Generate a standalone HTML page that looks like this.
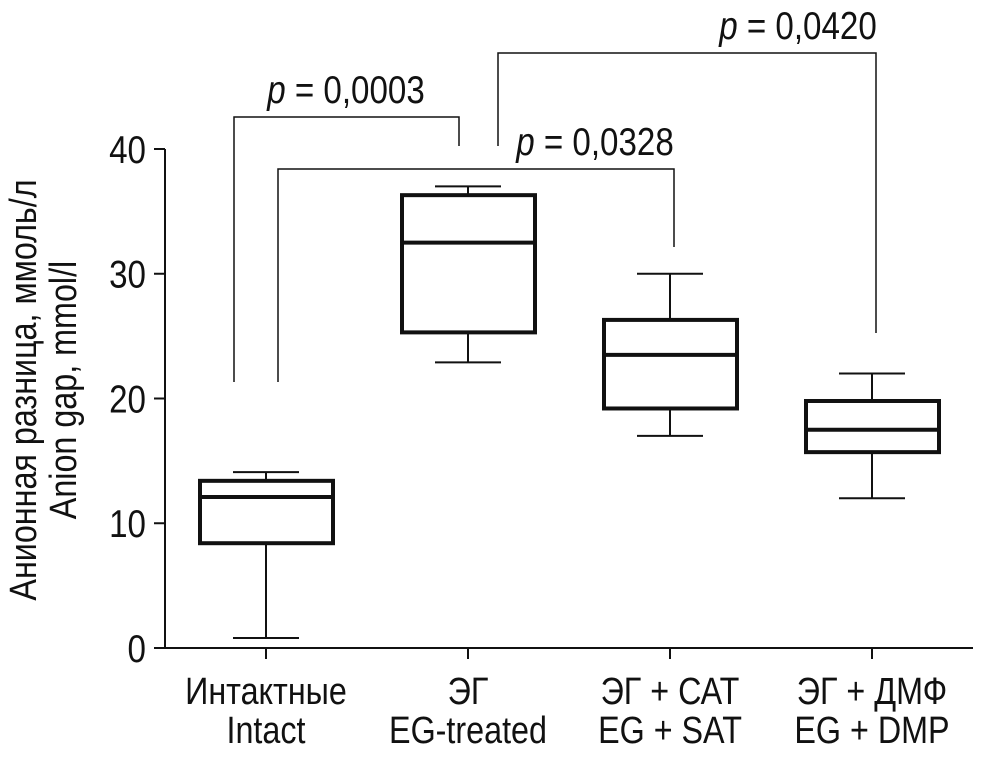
<!DOCTYPE html>
<html><head><meta charset="utf-8"><style>
html,body{margin:0;padding:0;background:#fff}
svg text{font-family:"Liberation Sans",sans-serif;fill:#111}
</style></head><body>
<svg width="986" height="755" viewBox="0 0 986 755">
<g id="plot"></g>
</svg>
<script>
const categories=["Intact","EG-treated","EG + SAT","EG + DMP"];
const labelsRu=["Интактные","ЭГ","ЭГ + САТ","ЭГ + ДМФ"];
const labelsEn=["Intact","EG-treated","EG + SAT","EG + DMP"];
const whiskerLow=[0.8,22.9,17,12];
const q1=[8.4,25.3,19.2,15.7];
const medians=[12.1,32.5,23.5,17.5];
const q3=[13.4,36.3,26.3,19.8];
const whiskerHigh=[14.1,37,30,22];
const yTicks=[0,10,20,30,40];
const pLabels=["0,0003","0,0328","0,0420"];
const NS="http://www.w3.org/2000/svg";
const g=document.getElementById('plot');
const y=v=>648-v*12.475;
const x=i=>266+i*202;
function el(t,a,name){const e=document.createElementNS(NS,t);for(const k in a)e.setAttribute(k,a[k]);


g.appendChild(e);return e;}
const S={stroke:'#111','stroke-width':2,fill:'none'};
el('line',{x1:165,y1:y(40),x2:165,y2:648,...S},'y-axis');
el('line',{x1:165,y1:648,x2:973,y2:648,...S},'x-axis');
yTicks.forEach(t=>{el('line',{x1:154,y1:y(t),x2:165,y2:y(t),...S},'y-tick');
const tx=el('text',{x:146/0.85,y:y(t)+14,'text-anchor':'end','font-size':39,transform:'scale(0.85,1)'},'y-tick-label');tx.textContent=t;});
categories.forEach((c,i)=>{const cx=x(i);
el('line',{x1:cx,y1:648,x2:cx,y2:659,...S},'x-tick');
el('line',{x1:cx,y1:y(whiskerLow[i]),x2:cx,y2:y(q1[i]),...S},'whisker-low');
el('line',{x1:cx,y1:y(q3[i]),x2:cx,y2:y(whiskerHigh[i]),...S},'whisker-high');
el('line',{x1:cx-33,y1:y(whiskerLow[i]),x2:cx+33,y2:y(whiskerLow[i]),...S},'whisker-cap-low');
el('line',{x1:cx-33,y1:y(whiskerHigh[i]),x2:cx+33,y2:y(whiskerHigh[i]),...S},'whisker-cap-high');
el('rect',{x:cx-66,y:y(q3[i]),width:133,height:y(q1[i])-y(q3[i]),stroke:'#111','stroke-width':4,fill:'none'},'box-'+i);
el('line',{x1:cx-66,y1:y(medians[i]),x2:cx+67,y2:y(medians[i]),stroke:'#111','stroke-width':4},'median-'+i);
[labelsRu[i],labelsEn[i]].forEach((l,k)=>{const t=el('text',{x:cx/0.85,y:704+k*39,'text-anchor':'middle','font-size':38,transform:'scale(0.85,1)'},'x-label');t.textContent=l;});
});
function bracket(xa,ya,xb,yb,top,lab,lx,name){
el('polyline',{points:`${xa},${ya} ${xa},${top} ${xb},${top} ${xb},${yb}`,stroke:'#111','stroke-width':1.5,fill:'none'},name);
const t=el('text',{x:lx/0.85,y:top-14,'text-anchor':'middle','font-size':39,transform:'scale(0.85,1)'},name+'-label');
t.innerHTML='<tspan font-style="italic">p</tspan> = '+lab;}
bracket(234,382,459,146,117,pLabels[0],346,'bracket-p1');
bracket(278,382,674,247,169,pLabels[1],595,'bracket-p2');
bracket(498,146,876,333,53,pLabels[2],798,'bracket-p3');
const yt=el('text',{'font-size':38,'text-anchor':'middle',transform:'translate(36,390) rotate(-90) scale(0.85,1)'},'y-axis-title');
yt.innerHTML='<tspan x="0" y="0">Анионная разница, ммоль/л</tspan><tspan x="0" y="40">Anion gap, mmol/l</tspan>';
</script>
</body></html>
